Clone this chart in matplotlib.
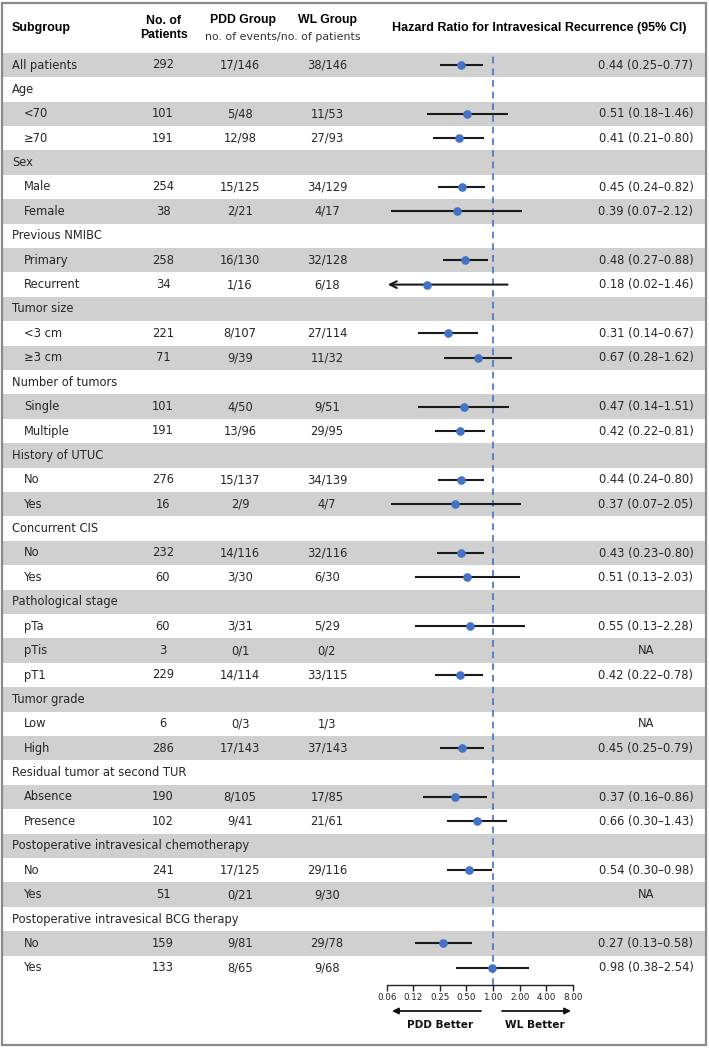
import matplotlib
matplotlib.use("Agg")
import matplotlib.pyplot as plt
from matplotlib.patches import Rectangle

# ---------------- data ----------------
labels = ["All patients", "Age", "<70", "≥70", "Sex", "Male", "Female",
          "Previous NMIBC", "Primary", "Recurrent", "Tumor size", "<3 cm", "≥3 cm",
          "Number of tumors", "Single", "Multiple", "History of UTUC", "No", "Yes",
          "Concurrent CIS", "No", "Yes", "Pathological stage", "pTa", "pTis", "pT1",
          "Tumor grade", "Low", "High", "Residual tumor at second TUR", "Absence",
          "Presence", "Postoperative intravesical chemotherapy", "No", "Yes",
          "Postoperative intravesical BCG therapy", "No", "Yes"]
levels = [0, 0, 1, 1, 0, 1, 1, 0, 1, 1, 0, 1, 1, 0, 1, 1, 0, 1, 1, 0, 1, 1,
          0, 1, 1, 1, 0, 1, 1, 0, 1, 1, 0, 1, 1, 0, 1, 1]
n_patients = ["292", "", "101", "191", "", "254", "38", "", "258", "34", "", "221", "71",
              "", "101", "191", "", "276", "16", "", "232", "60", "", "60", "3", "229",
              "", "6", "286", "", "190", "102", "", "241", "51", "", "159", "133"]
pdd_group = ["17/146", "", "5/48", "12/98", "", "15/125", "2/21", "", "16/130", "1/16", "",
             "8/107", "9/39", "", "4/50", "13/96", "", "15/137", "2/9", "", "14/116", "3/30",
             "", "3/31", "0/1", "14/114", "", "0/3", "17/143", "", "8/105", "9/41", "",
             "17/125", "0/21", "", "9/81", "8/65"]
wl_group = ["38/146", "", "11/53", "27/93", "", "34/129", "4/17", "", "32/128", "6/18", "",
            "27/114", "11/32", "", "9/51", "29/95", "", "34/139", "4/7", "", "32/116", "6/30",
            "", "5/29", "0/2", "33/115", "", "1/3", "37/143", "", "17/85", "21/61", "",
            "29/116", "9/30", "", "29/78", "9/68"]
hr = [0.44, None, 0.51, 0.41, None, 0.45, 0.39, None, 0.48, 0.18, None, 0.31, 0.67,
      None, 0.47, 0.42, None, 0.44, 0.37, None, 0.43, 0.51, None, 0.55, None, 0.42,
      None, None, 0.45, None, 0.37, 0.66, None, 0.54, None, None, 0.27, 0.98]
ci_low = [0.25, None, 0.18, 0.21, None, 0.24, 0.07, None, 0.27, 0.02, None, 0.14, 0.28,
          None, 0.14, 0.22, None, 0.24, 0.07, None, 0.23, 0.13, None, 0.13, None, 0.22,
          None, None, 0.25, None, 0.16, 0.30, None, 0.30, None, None, 0.13, 0.38]
ci_high = [0.77, None, 1.46, 0.80, None, 0.82, 2.12, None, 0.88, 1.46, None, 0.67, 1.62,
           None, 1.51, 0.81, None, 0.80, 2.05, None, 0.80, 2.03, None, 2.28, None, 0.78,
           None, None, 0.79, None, 0.86, 1.43, None, 0.98, None, None, 0.58, 2.54]
tick_values = [0.0625, 0.125, 0.25, 0.5, 1.0, 2.0, 4.0, 8.0]
tick_labels = ["0.06", "0.12", "0.25", "0.50", "1.00", "2.00", "4.00", "8.00"]

# ---------------- layout ----------------
W, H = 709, 1048
fig = plt.figure(figsize=(W / 100, H / 100), dpi=100)
bg = fig.add_axes([0, 0, 1, 1])
bg.set_xlim(0, W)
bg.set_ylim(H, 0)
bg.axis("off")

y0, dy = 65.0, 24.4
row_y = [y0 + i * dy for i in range(len(labels))]
band = "#d0d0d0"
txt = "#262626"
fs = 8.3
hfam = "Liberation Sans"

for i, y in enumerate(row_y):
    if i % 2 == 0:
        bg.add_patch(Rectangle((2, y - dy / 2), W - 5, dy, color=band, lw=0, zorder=0))

# header
bg.text(12, 28, "Subgroup", fontsize=9, fontweight="bold", va="center", ha="left",
        color="black", family=hfam)
bg.text(164, 28, "No. of\nPatients", fontsize=8.8, fontweight="bold", va="center", ha="center",
        color="black", linespacing=1.15, family=hfam)
bg.text(243, 20, "PDD Group", fontsize=8.8, fontweight="bold", va="center", ha="center",
        color="black", family=hfam)
bg.text(327, 20, "WL Group", fontsize=8.8, fontweight="bold", va="center", ha="center",
        color="black", family=hfam)
bg.text(283, 37, "no. of events/no. of patients", fontsize=7.9, va="center", ha="center",
        color="#333333")
bg.text(539, 28, "Hazard Ratio for Intravesical Recurrence (95% CI)", fontsize=9.0,
        fontweight="bold", va="center", ha="center", color="black", family=hfam)

for i, y in enumerate(row_y):
    x = 12 if levels[i] == 0 else 24
    bg.text(x, y, labels[i], fontsize=fs, va="center", ha="left", color=txt)
    if n_patients[i]:
        bg.text(163, y, n_patients[i], fontsize=fs, va="center", ha="center", color=txt)
        bg.text(240, y, pdd_group[i], fontsize=fs, va="center", ha="center", color=txt)
        bg.text(327, y, wl_group[i], fontsize=fs, va="center", ha="center", color=txt)
        if hr[i] is None:
            s = "NA"
        else:
            s = f"{hr[i]:.2f} ({ci_low[i]:.2f}\u2013{ci_high[i]:.2f})"
        bg.text(646, y, s, fontsize=fs, va="center", ha="center", color=txt)

# border
bg.add_patch(Rectangle((2, 3), W - 5, H - 6, fill=False, ec="#8a8a8a", lw=1.6, zorder=5))

# ---------------- forest axes ----------------
x_left, x_right = 386.6, 572.8
y_top, y_axis = 53.0, 985.0
fx = fig.add_axes([x_left / W, (H - y_axis) / H, (x_right - x_left) / W, (y_axis - y_top) / H])
fx.patch.set_alpha(0)
fx.set_xscale("log", base=2)
fx.set_xlim(tick_values[0], tick_values[-1])
fx.set_ylim(y_axis, y_top)
for s in ["top", "left", "right"]:
    fx.spines[s].set_visible(False)
fx.spines["bottom"].set_linewidth(1.0)
fx.spines["bottom"].set_color("#222222")
fx.set_yticks([])
fx.set_xticks(tick_values)
fx.set_xticklabels(tick_labels)
fx.xaxis.set_minor_locator(matplotlib.ticker.NullLocator())
fx.tick_params(axis="x", direction="out", length=4, width=1.0, labelsize=6.3, pad=2,
               color="#222222", labelcolor="#222222")

blue = "#4472C4"
fx.axvline(1.0, color=blue, lw=1.2, ls=(0, (4, 3)), zorder=1)

for i, y in enumerate(row_y):
    if hr[i] is None:
        continue
    lo, hi = ci_low[i], ci_high[i]
    if lo < tick_values[0]:
        fx.annotate("", xy=(tick_values[0] * 1.03, y), xytext=(hi, y),
                    arrowprops=dict(arrowstyle="->", lw=1.5, color="#1a1a1a",
                                    shrinkA=0, shrinkB=0, mutation_scale=12), zorder=2)
    else:
        fx.plot([lo, hi], [y, y], color="#1a1a1a", lw=1.5, solid_capstyle="butt", zorder=2)
    fx.plot([hr[i]], [y], "o", color=blue, ms=5.2, zorder=3, mec=blue)

# direction arrows
bg.annotate("", xy=(392, 1011), xytext=(481, 1011),
            arrowprops=dict(arrowstyle="-|>", lw=1.3, color="#111111", shrinkA=0, shrinkB=0,
                            mutation_scale=9))
bg.annotate("", xy=(571, 1011), xytext=(502, 1011),
            arrowprops=dict(arrowstyle="-|>", lw=1.3, color="#111111", shrinkA=0, shrinkB=0,
                            mutation_scale=9))
bg.text(440, 1025, "PDD Better", fontsize=7.6, fontweight="bold", ha="center", va="center",
        color="#111111")
bg.text(535, 1025, "WL Better", fontsize=7.6, fontweight="bold", ha="center", va="center",
        color="#111111")

fig.savefig("out.png", dpi=100)
